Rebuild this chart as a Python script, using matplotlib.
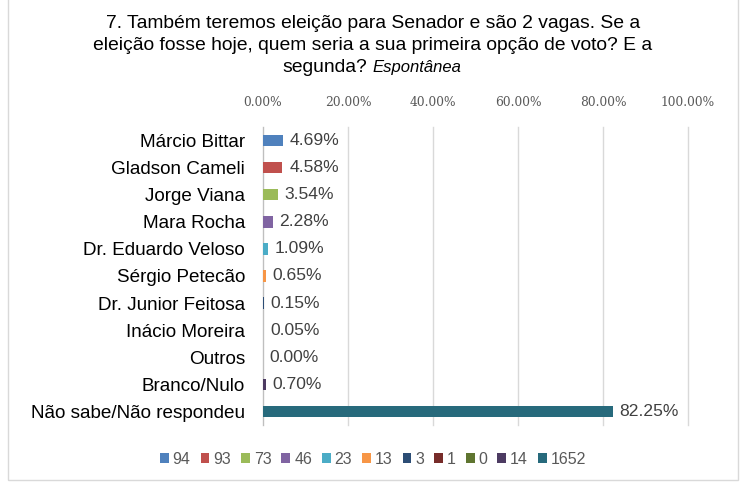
import matplotlib.pyplot as plt
from matplotlib.patches import Rectangle

# Data
categories = ['Márcio Bittar', 'Gladson Cameli', 'Jorge Viana', 'Mara Rocha',
              'Dr. Eduardo Veloso', 'Sérgio Petecão', 'Dr. Junior Feitosa',
              'Inácio Moreira', 'Outros', 'Branco/Nulo', 'Não sabe/Não respondeu']
percents = [4.69, 4.58, 3.54, 2.28, 1.09, 0.65, 0.15, 0.05, 0.00, 0.70, 82.25]
counts = ['94', '93', '73', '46', '23', '13', '3', '1', '0', '14', '1652']
colors = ['#4F81BD', '#C0504D', '#9BBB59', '#8064A2', '#4BACC6', '#F79646',
          '#2C4D75', '#772C2A', '#5F7530', '#4D3B62', '#276A7C']
xticks = [0, 20, 40, 60, 80, 100]

W, H = 741, 488
fig = plt.figure(figsize=(W / 100, H / 100), dpi=100)
plt.rcParams['font.family'] = ['Liberation Sans', 'DejaVu Sans']

# chart frame
fig.patches.append(Rectangle((8 / W, 8 / H), 730 / W, 1.2, transform=fig.transFigure,
                             fill=False, edgecolor='#D9D9D9', linewidth=1.0))

ax = fig.add_axes([263 / W, (H - 425) / H, (688 - 263) / W, (425 - 127) / H])

for i, (p, c, lab) in enumerate(zip(percents, colors, counts)):
    ax.barh(i, p, height=0.42, color=c, label=lab, zorder=3)
    ax.text(p + 1.6, i, f'{p:.2f}%', va='center', ha='left', fontsize=12.6, color='#404040')

ax.set_ylim(len(categories) - 0.5, -0.5)
ax.set_xlim(0, 100)
ax.set_yticks(range(len(categories)))
ax.set_yticklabels(categories, fontsize=13.6, color='black')
ax.set_xticks(xticks)
ax.set_xticklabels([f'{t:.2f}%' for t in xticks], fontsize=8.8, color='#595959',
                   family='DejaVu Serif')
ax.xaxis.tick_top()
ax.tick_params(axis='y', length=0, pad=13)
ax.tick_params(axis='x', length=0, pad=13)
ax.grid(axis='x', color='#D9D9D9', linewidth=1, zorder=0)
for line in ax.get_xgridlines():
    line.set_clip_on(False)
for s in ['top', 'right', 'bottom']:
    ax.spines[s].set_visible(False)
ax.spines['left'].set_color('#BFBFBF')

# title
fig.text(373 / W, 1 - 23 / H, '7. Também teremos eleição para Senador e são 2 vagas. Se a',
         ha='center', va='center', fontsize=13.9)
fig.text(373 / W, 1 - 45 / H, 'eleição fosse hoje, quem seria a sua primeira opção de voto? E a',
         ha='center', va='center', fontsize=13.9)
fig.text(367 / W, 1 - 67 / H, 'segunda?', ha='right', va='center', fontsize=13.9)
fig.text(372 / W, 1 - 67 / H, 'Espontânea', ha='left', va='center', fontsize=12,
         style='italic')

handles, labels = ax.get_legend_handles_labels()
fig.legend(handles, labels, loc='center', bbox_to_anchor=(373 / W, 1 - 459 / H),
           ncol=len(labels), frameon=False, fontsize=11.5, handlelength=0.55,
           handleheight=0.55, handletextpad=0.25, columnspacing=0.62, labelcolor='#595959')

fig.savefig('out.png', dpi=100)
